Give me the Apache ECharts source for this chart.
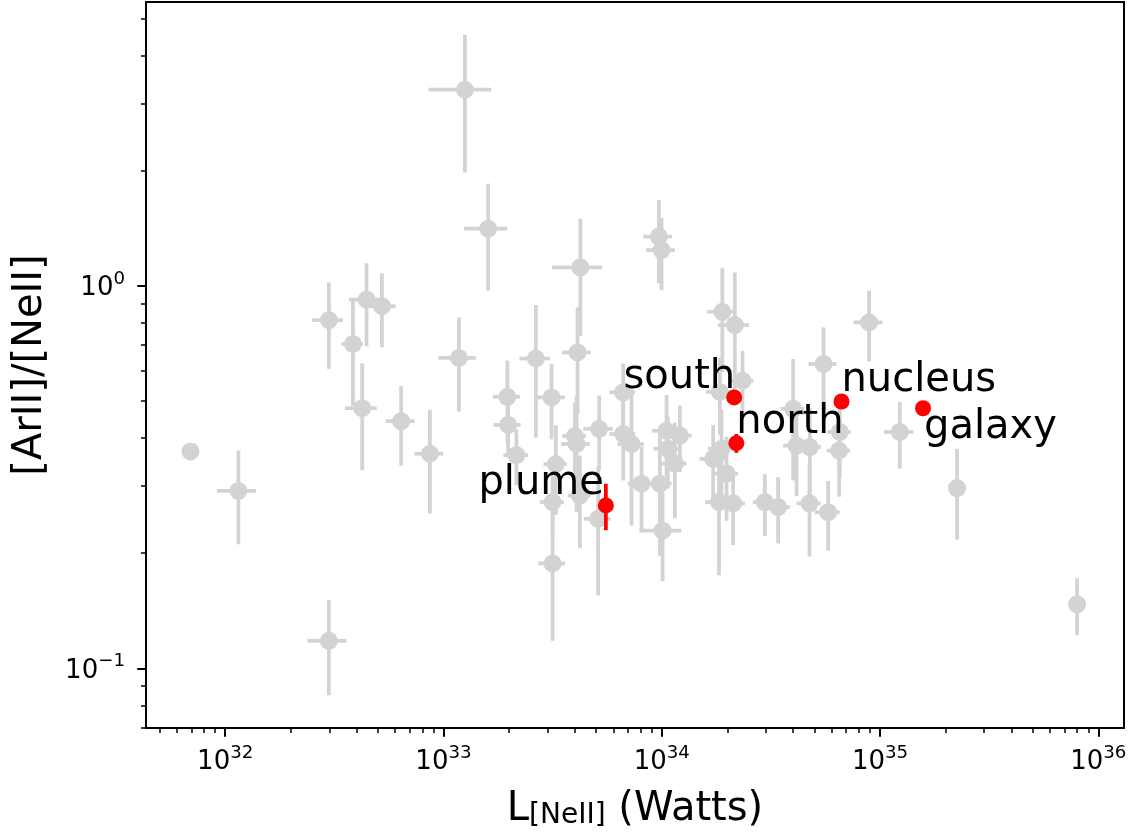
<!DOCTYPE html>
<html><head><meta charset="utf-8">
<script src="https://cdn.jsdelivr.net/npm/echarts@6/dist/echarts.min.js"></script>
<style>html,body{margin:0;padding:0;background:#fff}#c{width:1131px;height:835px}</style>
</head><body><div id="c"></div>
<script>
// ---- data ----
const grayL = [6.93e31,1.149e32,2.985e32,3.846e32,4.443e32,5.222e32,4.242e32,6.400e32,8.664e32,1.177e33,
  2.985e32,1.254e33,1.602e33,4.238e33,4.115e33,2.650e33,9.699e33,9.979e33,1.895e34,2.162e34,
  2.345e34,5.510e34,8.915e34,1.232e35,2.255e35,7.996e35,1.962e33,1.979e33,2.158e33,3.128e33,
  3.273e33,3.161e33,3.161e33,4.072e33,4.0e33,5.168e33,5.112e33,4.216e33,6.656e33,6.656e33,
  7.271e33,8.083e33,9.802e33,1.052e34,1.009e34,1.148e34,1.211e34,1.067e34,1.720e34,1.83e34,
  1.879e34,1.981e34,2.124e34,2.967e34,3.414e34,3.999e34,4.145e34,4.770e34,4.75e34,5.783e34,
  6.495e34,6.543e34,1.846e34];
const grayLErr = [0,0.233e32,0.48e32,0.43e32,0.75e32,0.81e32,0.70e32,0.97e32,1.30e32,0.23e33,
  0.61e32,0.40e33,0.36e33,1.10e33,0.62e33,0.42e33,1.46e33,1.50e33,0.28e34,0.35e34,
  0.28e34,0.81e34,1.36e34,0.19e35,0,0,0.28e33,0.28e33,0.28e33,0.47e33,
  0.40e33,0.40e33,0.44e33,0.61e33,0.5e33,0.80e33,0.72e33,0.5e33,0.9e33,0.9e33,
  1.0e33,1.1e33,1.3e33,0.15e34,0.22e34,0.15e34,0.16e34,0.15e34,0.23e34,0.25e34,
  0.25e34,0.26e34,0.28e34,0.35e34,0.45e34,0.5e34,0.55e34,0.6e34,0.6e34,0.75e34,
  0.8e34,0.8e34,0.25e34];
const grayR = [0.369,0.291,0.814,0.705,0.921,0.885,0.479,0.443,0.364,0.648,
  0.118,3.26,1.412,1.119,0.670,0.646,1.346,1.241,0.856,0.790,
  0.565,0.625,0.803,0.415,0.296,0.147,0.513,0.433,0.361,0.511,
  0.342,0.272,0.188,0.386,0.405,0.423,0.246,0.283,0.527,0.410,
  0.386,0.304,0.304,0.418,0.229,0.343,0.406,0.375,0.353,0.272,
  0.375,0.323,0.270,0.272,0.264,0.477,0.382,0.379,0.270,0.256,
  0.371,0.415,0.528];
const grayRErr = [0,0.080,0.207,0.219,0.226,0.194,0.149,0.104,0.110,0.179,
  0.033,1.28,0.44,0.38,0.208,0.245,0.33,0.267,0.26,0.294,
  0.112,0.154,0.168,0.082,0.079,0.025,0.125,0.07,0.06,0.114,
  0.09,0.05,0.07,0.13,0.09,0.094,0.091,0.077,0.10,0.10,
  0.15,0.076,0.107,0.10,0.060,0.096,0.08,0.08,0.08,0.097,
  0.10,0.08,0.06,0.05,0.052,0.167,0.10,0.10,0.074,0.053,
  0.09,0.10,0.12];

const redNames = ['south','north','nucleus','galaxy','plume'];
const redL = [2.147e34,2.197e34,6.661e34,1.575e35,5.546e33];
const redLErr = [0,0,0,0,0];
const redR = [0.511,0.388,0.4986,0.4787,0.2667];
const redRErr = [0.01,0.022,0,0,0.037];

const xMajorTicks = [1e32,1e33,1e34,1e35,1e36];
const xMinorTicks = [5e31,6e31,7e31,8e31,9e31,
  2e32,3e32,4e32,5e32,6e32,7e32,8e32,9e32,
  2e33,3e33,4e33,5e33,6e33,7e33,8e33,9e33,
  2e34,3e34,4e34,5e34,6e34,7e34,8e34,9e34,
  2e35,3e35,4e35,5e35,6e35,7e35,8e35,9e35];
const yMajorTicks = [0.1,1];
const yMinorTicks = [0.07,0.08,0.09,0.2,0.3,0.4,0.5,0.6,0.7,0.8,0.9,2,3,4,5];

const X_MIN = 4.335e31, X_MAX = 1.312e36, Y_MIN = 0.06978, Y_MAX = 5.53;

// ---- chart ----
const FONT = 'DejaVu Sans';
const GRAY = '#d3d3d3', RED = '#ff0000';

function powLabel(v){
  const e = Math.round(Math.log10(v));
  return '{b|10}{s|' + (e < 0 ? '\u2212' + (-e) : e) + '}';
}
const tickRich = {
  b:{fontFamily:FONT,fontSize:26,lineHeight:31,verticalAlign:'bottom',color:'#000'},
  s:{fontFamily:FONT,fontSize:18.2,lineHeight:18,verticalAlign:'top',color:'#000'}
};

function errData(L, LE, R, RE){ return L.map((x,i)=>[x, R[i], LE[i], RE[i]]); }
function errRender(color){
  return function(params, api){
    const x = api.value(0), y = api.value(1), dx = api.value(2), dy = api.value(3);
    const ch = [];
    if (dy > 0) {
      const a = api.coord([x, y - dy]), b = api.coord([x, y + dy]);
      ch.push({type:'line', shape:{x1:a[0],y1:a[1],x2:b[0],y2:b[1]}, style:{stroke:color,lineWidth:3.75}});
    }
    if (dx > 0) {
      const a = api.coord([x - dx, y]), b = api.coord([x + dx, y]);
      ch.push({type:'line', shape:{x1:a[0],y1:a[1],x2:b[0],y2:b[1]}, style:{stroke:color,lineWidth:3.75}});
    }
    return {type:'group', children:ch};
  };
}

const labelCfg = {
  south:  {align:'right', verticalAlign:'bottom', offset:[1,0]},
  north:  {align:'left',  verticalAlign:'bottom', offset:[0,-1]},
  nucleus:{align:'left',  verticalAlign:'bottom', offset:[0,-1]},
  galaxy: {align:'left',  verticalAlign:'top',    offset:[1,-1]},
  plume:  {align:'right', verticalAlign:'bottom', offset:[-2,-2]}
};

const chart = echarts.init(document.getElementById('c'), null, {renderer:'canvas'});
chart.setOption({
  animation:false,
  backgroundColor:'#fff',
  grid:{left:146,right:7,top:2,bottom:105,show:true,borderColor:'#000',borderWidth:2,backgroundColor:'transparent'},
  xAxis:[{
    type:'log', logBase:10, min:X_MIN, max:X_MAX, position:'bottom',
    axisLine:{show:false,onZero:false}, splitLine:{show:false},
    axisTick:{show:true, customValues:xMajorTicks, length:8.75, lineStyle:{color:'#000',width:2}},
    axisLabel:{customValues:xMajorTicks, formatter:powLabel, margin:16, rich:tickRich},
    name:'{m|L}{sub|[NeII]}{m| (Watts)}', nameLocation:'middle', nameGap:62,
    nameTextStyle:{fontFamily:FONT,fontSize:40,color:'#000',rich:{
      m:{fontFamily:FONT,fontSize:40,lineHeight:40,verticalAlign:'top',color:'#000'},
      sub:{fontFamily:FONT,fontSize:28,lineHeight:18,verticalAlign:'bottom',color:'#000'}}}
  },{
    type:'log', logBase:10, min:X_MIN, max:X_MAX, position:'bottom',
    axisLine:{show:false,onZero:false}, splitLine:{show:false}, axisLabel:{show:false},
    axisTick:{show:true, customValues:xMinorTicks, length:5, lineStyle:{color:'#000',width:1.5}}
  }],
  yAxis:[{
    type:'log', logBase:10, min:Y_MIN, max:Y_MAX, position:'left',
    axisLine:{show:false,onZero:false}, splitLine:{show:false},
    axisTick:{show:true, customValues:yMajorTicks, length:8.75, lineStyle:{color:'#000',width:2}},
    axisLabel:{customValues:yMajorTicks, formatter:powLabel, margin:21, rich:tickRich},
    name:'[ArII]/[NeII]', nameLocation:'middle', nameGap:95,
    nameTextStyle:{fontFamily:FONT,fontSize:40,lineHeight:40,color:'#000'}
  },{
    type:'log', logBase:10, min:Y_MIN, max:Y_MAX, position:'left',
    axisLine:{show:false,onZero:false}, splitLine:{show:false}, axisLabel:{show:false},
    axisTick:{show:true, customValues:yMinorTicks, length:5, lineStyle:{color:'#000',width:1.5}}
  }],
  series:[
    {type:'custom', name:'grayErr', xAxisIndex:0, yAxisIndex:0, z:1, silent:true,
     renderItem:errRender(GRAY), encode:{x:0,y:1}, data:errData(grayL,grayLErr,grayR,grayRErr)},
    {type:'scatter', name:'gray', xAxisIndex:0, yAxisIndex:0, z:2, symbol:'circle', symbolSize:18,
     itemStyle:{color:GRAY,opacity:1}, data:grayL.map((x,i)=>[x,grayR[i]])},
    {type:'custom', name:'redErr', xAxisIndex:0, yAxisIndex:0, z:3, silent:true,
     renderItem:errRender(RED), encode:{x:0,y:1}, data:errData(redL,redLErr,redR,redRErr)},
    {type:'scatter', name:'red', xAxisIndex:0, yAxisIndex:0, z:4, symbol:'circle', symbolSize:16,
     itemStyle:{color:RED,opacity:1},
     data:redNames.map((n,i)=>({name:n, value:[redL[i],redR[i]],
       label:Object.assign({show:true, formatter:'{b}', position:[8,8], fontFamily:FONT, fontSize:40, lineHeight:40, color:'#000'}, labelCfg[n])}))}
  ]
});
</script></body></html>
